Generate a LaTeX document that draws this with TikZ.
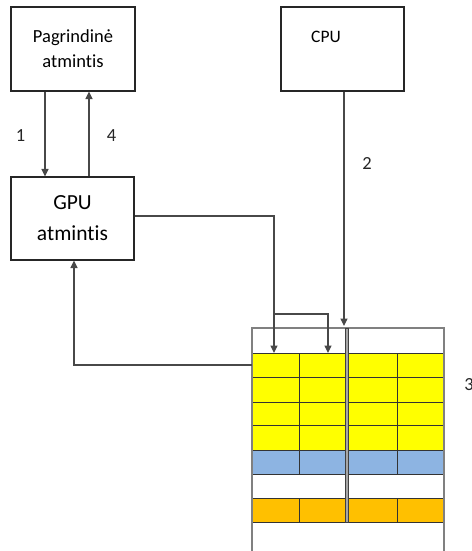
\documentclass[tikz,border=0pt]{standalone}
\usepackage{fontspec}
\setmainfont{Carlito}[Ligatures=NoCommon]
\usetikzlibrary{arrows.meta}
\definecolor{cellyellow}{HTML}{FFFF00}
\definecolor{cellblue}{HTML}{8DB4E2}
\definecolor{cellorange}{HTML}{FFC000}
\definecolor{linegray}{HTML}{484848}
\tikzset{
  box/.style={draw=black!85, line width=1.1pt, rectangle, inner sep=0pt, align=center},
  conn/.style={draw=linegray, line width=1.2pt, -{Triangle[length=7.5pt,width=7pt]}},
  num/.style={font=\fontsize{18.5}{22}\selectfont, text=black!85},
  cellline/.style={draw=black!80, line width=0.9pt},
}
\begin{document}
\begin{tikzpicture}[x=1pt, y=-1pt]
\clip (0,0) rectangle (471,551);
\fill[white] (0,0) rectangle (471,551);

% memory, GPU and CPU blocks
\node[box, minimum width=124pt, minimum height=84pt,
      font=\fontsize{18.5}{25}\selectfont] (pm) at (73,49) {Pagrindinė\\atmintis};
\node[box, minimum width=123pt, minimum height=83pt,
      font=\fontsize{21.5}{31}\selectfont] (gpu) at (72.5,218.5) {GPU\\atmintis};
\node[box, minimum width=123pt, minimum height=84pt] (cpu) at (342.5,49) {};
\node[font=\fontsize{17.5}{20}\selectfont, anchor=base] (cputext) at (326,43) {CPU};

% data grid
\node[draw=gray, line width=1.1pt, rectangle, minimum width=192pt, minimum height=272pt,
      inner sep=0pt] (grid) at (348,464) {};
\foreach \ya/\yb in {353/377,377/402,402/425,425/450}
  \fill[cellyellow] (252,\ya) rectangle (444,\yb);
\fill[cellblue] (252,450) rectangle (444,474);
\fill[cellorange] (252,498) rectangle (444,522);
\foreach \y in {353,377,402,425,450,474,498,522}
  \draw[cellline] (252,\y) -- (444,\y);
\foreach \x in {299,397} {
  \draw[cellline] (\x,353) -- (\x,474);
  \draw[cellline] (\x,498) -- (\x,522);
}
\draw[draw=gray, line width=1.1pt] (252,328) rectangle (444,600);
\filldraw[fill=gray!70, draw=black!75, line width=0.6pt] (345.3,328) rectangle (348.3,522);

% connector end points on the grid
\coordinate (c1) at (274,353);
\coordinate (c2) at (328,353);
\coordinate (b1) at (274,314);
\coordinate (c3) at (344,326);
\coordinate (g1) at (252,365);

% connectors
\draw[conn] ([xshift=-28pt]pm.south) -- ([xshift=-27.5pt]gpu.north);
\draw[conn] ([xshift=16.5pt]gpu.north) -- ([xshift=16pt]pm.south);
\draw[conn] ([yshift=2.5pt]gpu.east) -| (c1);
\draw[conn] (b1) -| (c2);
\draw[conn] (cpu.south -| c3) -- (c3);
\draw[conn] (g1) -| ([xshift=1.5pt]gpu.south);

% step numbers
\node[num] (n1) at (20.5,135.5) {1};
\node[num] (n4) at (111.5,135.5) {4};
\node[num] (n2) at (367,163) {2};
\node[num] (n3) at (469,385) {3};
\end{tikzpicture}
\end{document}
